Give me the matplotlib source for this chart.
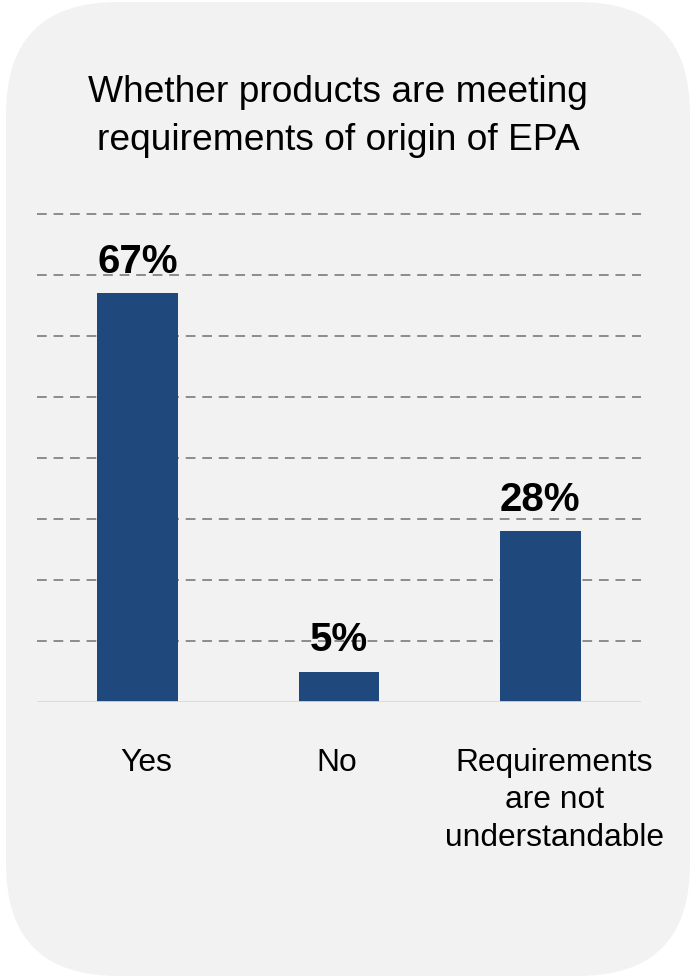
import matplotlib
matplotlib.use("Agg")
import matplotlib.pyplot as plt
from matplotlib.patches import FancyBboxPatch

plt.rcParams['font.family'] = ['Liberation Sans', 'DejaVu Sans']

# survey answers
categories = ["Yes", "No", "Requirements\nare not\nunderstandable"]
shares = [67, 5, 28]
title_lines = ["Whether products are meeting", "requirements of origin of EPA"]

W, H = 692, 977
fig = plt.figure(figsize=(W / 100, H / 100), dpi=100)
fig.patch.set_facecolor("white")

# background card, drawn in pixel units
bg = fig.add_axes([0, 0, 1, 1])
bg.set_xlim(0, W)
bg.set_ylim(H, 0)
bg.axis("off")
card = FancyBboxPatch((6, 2), 684, 974,
                      boxstyle="round,pad=0,rounding_size=112",
                      facecolor="#f2f2f2", edgecolor="none")
bg.add_patch(card)

bg.text(W / 2 - 8, 102, title_lines[0], ha="center", va="baseline", fontsize=26.7)
bg.text(W / 2 - 8, 150, title_lines[1], ha="center", va="baseline", fontsize=26.7)

# bar chart area
ax = fig.add_axes([37 / W, 1 - 702 / H, 604 / W, 488 / H])
ax.set_facecolor("none")
x = range(len(categories))
bars = ax.bar(x, shares, width=0.4, color="#1f497d", zorder=3)
ax.set_xlim(-0.5, 2.5)
ax.set_ylim(0, 80)

for yv in range(10, 81, 10):
    ax.axhline(yv, color="#8c8c8c", lw=1.4, ls=(0, (5, 3.5)), zorder=1, clip_on=False)
ax.axhline(0, color="#d9d9d9", lw=2, zorder=4)

for b, v in zip(bars, shares):
    ax.annotate(f"{v}%", (b.get_x() + b.get_width() / 2, v),
                xytext=(0, 14.5), textcoords="offset points",
                ha="center", va="baseline", fontsize=29, fontweight="bold")

# category labels sit a little off the bar centres
label_shift = [6, -1.5, 10]
for xi, lab, dx in zip(x, categories, label_shift):
    ax.annotate(lab, (xi, 0), xytext=(dx, -33), textcoords="offset points",
                ha="center", va="top", fontsize=22.9, linespacing=1.33)

for s in ax.spines.values():
    s.set_visible(False)
ax.set_xticks([])
ax.set_yticks([])

fig.savefig("out.png", dpi=100)
